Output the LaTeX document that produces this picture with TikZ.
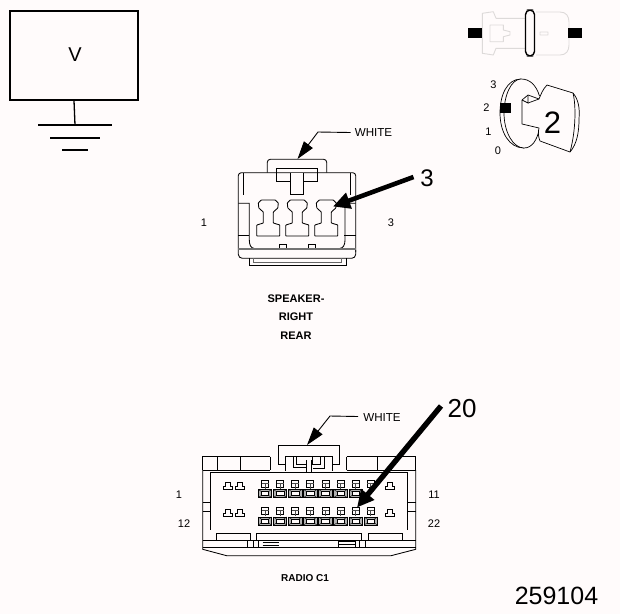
\documentclass[tikz,border=0pt]{standalone}
\usepackage{fontspec}
\setmainfont{Liberation Sans}
\usetikzlibrary{arrows.meta}
\definecolor{paper}{HTML}{FFFBFB}
\definecolor{pale}{HTML}{DDDAD9}
\tikzset{
  lbl/.style={inner sep=0pt,font=\fontsize{11}{13}\selectfont},
  wlbl/.style={inner sep=0pt,font=\fontsize{11.6}{13}\selectfont},
  blbl/.style={inner sep=0pt,font=\fontsize{11}{12}\selectfont\bfseries},
  big/.style={inner sep=0pt,font=\fontsize{24}{28}\selectfont},
  ln/.style={draw=black,line width=0.85pt},
  fat/.style={draw=black,line width=4.6pt,-{Triangle[length=17pt,width=16pt]}},
  lead/.style={draw=black,line width=0.9pt,-{Triangle[length=18pt,width=11pt]}},
  bar/.style={fill=black,draw=none}
}
\begin{document}
\begin{tikzpicture}[x=1pt,y=-1pt]
\useasboundingbox (0,0) rectangle (620,614);
\fill[paper] (0,0) rectangle (620,614);
% voltage box and ground
\node[draw=black,line width=1.6pt,minimum width=128pt,minimum height=89pt,inner sep=0pt] (vbox) at (74,55.5) {};
\node[inner sep=0pt,font=\fontsize{20}{24}\selectfont] (vtxt) at (75,55) {V};
\coordinate (g0) at (75,125);
\draw[line width=1.3pt] (vbox.south) -- (g0);
\draw[line width=2pt] (38,125) -- (112,125) (50,138) -- (100,138) (62,150) -- (88,150);
% pale plug
\draw[pale,line width=0.9pt,line join=round]
  (525,18.3) -- (496,18.3) -- (493.3,11.7) -- (482.3,13.3) -- (482.3,53.3) -- (493.3,55) -- (496,48.3) -- (525,48.3)
  (490,25) -- (503.3,25) -- (503.3,30) -- (510,31.7) -- (510,35) -- (503.3,36.7) -- (503.3,41.7) -- (490,41.7) -- cycle
  (536,12) -- (560,12) .. controls (566,12) and (569,16) .. (569,22) -- (569,45)
  .. controls (569,51) and (566,55) .. (560,55) -- (536,55)
  (540,32) -- (548,32) -- (548,35) -- (540,35) -- cycle;
\node[bar,minimum width=14pt,minimum height=10.6pt,inner sep=0pt] (pl) at (475.3,33) {};
\node[bar,minimum width=13.4pt,minimum height=10.6pt,inner sep=0pt] (pr) at (575,33) {};
\draw[line width=1.4pt,rounded corners=4.6pt,fill=paper] (525.5,10) rectangle (534.5,56);
% key
\draw[line width=0.7pt] (521,79) .. controls (507,79) and (500,95) .. (500,113)
  .. controls (500,132) and (509,148) .. (524,148);
\draw[line width=0.7pt,fill=paper] (539.5,96) .. controls (536,85) and (530,79) .. (521,79)
  .. controls (511,79) and (504,96) .. (504,113) .. controls (504,132) and (513,148) .. (524,148)
  .. controls (532,148) and (537,140) .. (539,130);
\draw[line width=0.7pt,fill=paper,line join=round] (522,100) -- (528,95) -- (539,99)
  .. controls (541,94) and (543,89) .. (547,85) -- (573,93)
  .. controls (578,99) and (580,107) .. (579,119) .. controls (579,132) and (577,144) .. (570,152)
  -- (540,141) .. controls (538,136) and (538,132) .. (539,128) -- (522,124) -- cycle;
\draw[line width=0.7pt] (528,95) -- (528,103) -- (522,100);
\draw[line width=0.7pt] (528,103) -- (539,99);
\draw[line width=0.7pt] (573,93) .. controls (576,105) and (576,130) .. (570,152);
\node[bar,minimum width=11pt,minimum height=9.5pt,inner sep=0pt] (kb) at (505.5,108) {};
\node[inner sep=0pt,font=\fontsize{31}{34}\selectfont] (k2) at (552.5,122.5) {2};
\node[lbl] (k3) at (493.5,85) {3};
\node[lbl] (k2b) at (486.5,107.5) {2};
\node[lbl] (k1) at (488.5,131.5) {1};
\node[lbl] (k0) at (498,151) {0};
% speaker connector
\begin{scope}[ln]
\draw[rounded corners=3pt] (238.3,230) -- (238.3,172.7) -- (355.7,172.7) -- (355.7,252) ;
\draw (238.3,230) -- (238.3,253) [rounded corners=4pt] -- (238.3,258.3) -- (355.7,258.3) -- (355.7,250);
\draw[rounded corners=3pt] (267.3,172.7) -- (267.3,159.3) -- (326.7,159.3) -- (326.7,172.7);
\draw (276.7,168.3) rectangle (317.3,181);
\draw[fill=paper] (290.7,173) -- (290.7,194.3) -- (303.3,194.3) -- (303.3,173);
\draw (243.3,173) -- (243.3,195) (350,173) -- (350,195);
\draw (238.3,203.3) -- (249.3,203.3) -- (249.3,240) .. controls (249.3,245) and (251,248.3) .. (254,248.3);
\draw (238.3,235) -- (249.3,235) (344,235) -- (355.7,235);
\draw (355.7,203.3) -- (345,203.3) -- (345,240) .. controls (345,245) and (343,248.3) .. (340,248.3);
\draw[black!55,line width=1.4pt] (238.3,248.8) -- (355.7,248.8);
\draw (279.3,248.3) -- (279.3,244) -- (286,244) -- (286,248.3);
\draw (308.3,248.3) -- (308.3,244) -- (315,244) -- (315,248.3);
\draw (249.3,258.3) -- (249.3,265.7) -- (346,265.7) -- (346,258.3);
\draw[black!60] (253.3,258.3) -- (253.3,262.3) -- (341.7,262.3) -- (341.7,258.3);
\foreach \c in {268.3,297.3,326.3}{
  \draw[line join=round,rounded corners=0.5pt] (\c-7,200) -- (\c+7,200) -- (\c+10,203) -- (\c+9.5,208) -- (\c+5,212) -- (\c+5,223)
   -- (\c+11.5,225) -- (\c+11.5,236) -- (\c-11.5,236) -- (\c-11.5,225) -- (\c-5,223) -- (\c-5,212) -- (\c-9.5,208) -- (\c-10,203) -- cycle;
}
\end{scope}
\node[wlbl] (w1) at (373.5,132.5) {WHITE};
\coordinate (w1a) at (318,132);
\coordinate (w1t) at (297.5,159);
\draw[lead] (w1.west) ++(-4,0) -- (w1a) -- (w1t);
\node[big] (n3) at (427,178) {3};
\coordinate (n3t) at (333,206.5);
\draw[fat] (413.5,177) -- (n3t);
\node[lbl] (s1) at (204,223) {1};
\node[lbl] (s3) at (391,223) {3};
\node[blbl] (t1) at (296,298.5) {SPEAKER-};
\node[blbl] (t2) at (296,317) {RIGHT};
\node[blbl] (t3) at (296,336) {REAR};
% radio connector
\begin{scope}[ln]
\draw (202.7,470) -- (202.7,456.7) -- (270,456.7) (346.7,456.7) -- (415.7,456.7) -- (415.7,470);
\draw (202.7,470) -- (270,470) (346.7,470) -- (415.7,470);
\draw (217.7,456.7) -- (217.7,470) (240.7,456.7) -- (240.7,470) (270,456.7) -- (270,470);
\draw (346.7,456.7) -- (346.7,470) (377.3,456.7) -- (377.3,470);
\draw (285,464) -- (278.3,464) -- (278.3,445) -- (339.3,445) -- (339.3,464) -- (332,464);
\draw (285,470.5) -- (285,456.7) -- (332,456.7) -- (332,470.5);
\draw (293.3,456.7) -- (293.3,467.3) -- (306.7,467.3);
\draw (296.7,456.7) -- (296.7,464) -- (306.7,464);
\draw (312.7,456.7) -- (312.7,464) -- (320.7,464) -- (320.7,456.7);
\draw (324,456.7) -- (324,468.3) -- (312.7,468.3);
\draw (306.7,460) -- (306.7,472) (311.7,460) -- (311.7,472);
\draw (202.7,470) -- (202.7,549.3) -- (226.7,555.7) -- (391,555.7) -- (415.7,549.3) -- (415.7,470);
\draw (210,472) -- (407.3,472) -- (407.3,530) (210,472) -- (210,530);
\draw (202.7,540) -- (415.7,540) (202.7,547.3) -- (415.7,547.3);
\draw (202.7,502.7) -- (210,502.7) (202.7,511.7) -- (210,511.7) (407.3,502.7) -- (415.7,502.7) (407.3,511.7) -- (415.7,511.7);
\draw (216,533.3) -- (250,533.3) -- (250,540) (216,533.3) -- (216,540);
\draw (256,540) -- (256,533.3) -- (361.7,533.3) -- (361.7,540);
\draw (368.3,540) -- (368.3,533.3) -- (402.3,533.3) -- (402.3,540);
\draw (247.3,540) -- (247.3,547.3) (253.3,540) -- (253.3,547.3) (258.3,540) -- (258.3,547.3)
      (359.3,540) -- (359.3,547.3) (365.7,540) -- (365.7,547.3);
\draw (262.7,542.3) -- (279.3,542.3) (262.7,545) -- (279.3,545)
      (338.3,541.7) -- (355.7,541.7) (338.3,544.5) -- (355.7,544.5) (338.3,541.7) -- (338.3,547.3) (355.7,541.7) -- (355.7,547.3);
\foreach \x in {228,240,390}{\foreach \y in {486,513}{
  \draw[line width=0.7pt] (\x-2.5,\y-4) -- (\x+2.5,\y-4) -- (\x+2.5,\y) -- (\x+4.5,\y) -- (\x+4.5,\y+3) -- (\x-4.5,\y+3) -- (\x-4.5,\y) -- (\x-2.5,\y) -- cycle;
}}
\foreach \i in {0,...,7}{
  \pgfmathsetmacro{\cx}{265+15.1*\i}
  \foreach \y in {480,507.5}{
    \draw[line width=0.7pt] (\cx-3.5,\y) rectangle (\cx+3.5,\y+7);
    \draw[line width=0.6pt,black!70] (\cx-3.5,\y+3) -- (\cx+3.5,\y+3) (\cx,\y+3) -- (\cx,\y+8.5);
    \pgfmathparse{(\i<7 || \y>500) ? 1 : 0}
    \ifnum\pgfmathresult=1
    \draw[line width=0.7pt,fill=black!30] (\cx-6.7,\y+9.5) rectangle (\cx+6.7,\y+17.5);
    \draw[line width=0.5pt,fill=paper] (\cx-3.7,\y+11.5) rectangle (\cx+3.7,\y+15.5);
    \draw[line width=0.4pt] (\cx-6.7,\y+9.5) -- (\cx-3.7,\y+11.5) (\cx+6.7,\y+9.5) -- (\cx+3.7,\y+11.5)
       (\cx-6.7,\y+17.5) -- (\cx-3.7,\y+15.5) (\cx+6.7,\y+17.5) -- (\cx+3.7,\y+15.5);
    \fi
  }
}
\end{scope}
\node[wlbl] (w2) at (382,417) {WHITE};
\coordinate (w2a) at (330,416);
\coordinate (w2t) at (307,445);
\draw[lead] (w2.west) ++(-5,-0.5) -- (w2a) -- (w2t);
\node[big,font=\fontsize{26}{28}\selectfont] (n20) at (462,409) {20};
\coordinate (n20t) at (357,507.5);
\draw[fat,line width=5.4pt] (441,406) -- (n20t);
\node[lbl] (r1) at (179,495) {1};
\node[lbl] (r12) at (184,524) {12};
\node[lbl] (r11) at (434,495) {11};
\node[lbl] (r22) at (434,524) {22};
\node[blbl,font=\fontsize{10}{12}\selectfont\bfseries] (rc) at (305,578.5) {RADIO C1};
\node[big,font=\fontsize{25}{28}\selectfont] (num) at (556.5,596) {259104};
\end{tikzpicture}
\end{document}
